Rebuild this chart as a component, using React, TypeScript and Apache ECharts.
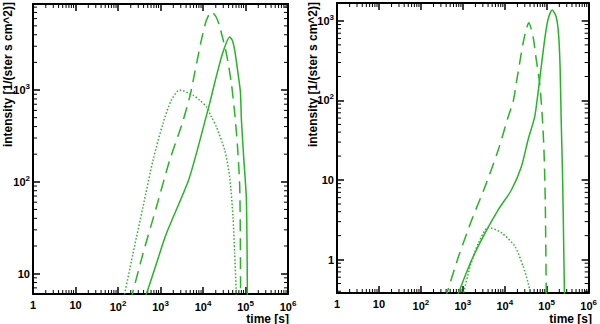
import React, { useEffect, useRef } from 'react';
import * as echarts from 'echarts';

// ---------- axis ranges ----------
const X_RANGE = [1, 1e6];
const LEFT_Y_RANGE = [6, 8650];
const RIGHT_Y_RANGE = [0.38, 1680];

// ---------- left panel data (time [s], intensity) ----------
const leftDashedT = [196, 387, 802, 1644, 3162, 4898, 6457, 9120, 12020, 15780, 20650, 24720, 35480, 46560, 55720, 64570, 73110, 75860, 76740];
const leftDashedI = [5.0, 16.5, 53.2, 172, 417, 851, 1585, 3467, 5754, 7129, 6166, 4887, 2512, 1180, 556, 251, 87.9, 17.8, 5.0];

const leftSolidT = [372, 466, 802, 1377, 4436, 7000, 10960, 14390, 20650, 29580, 42460, 48640, 55720, 66680, 75860, 80170, 91200, 105000, 110900];
const leftSolidI = [5.0, 6.03, 12.9, 27.3, 100, 204, 447, 719, 1416, 2588, 3776, 3499, 2723, 1517, 955, 470, 178, 63.1, 5.0];

const leftDottedT = [132, 225, 387, 667, 1146, 1803, 2831, 5821, 8356, 12020, 15780, 20650, 32430, 42460, 50820, 55720, 61660];
const leftDottedI = [5.0, 16.5, 53.2, 172, 433, 776, 1000, 879, 776, 656, 511, 397, 221, 113, 41.4, 16.5, 5.0];

// ---------- right panel data ----------
const rightDashedT = [376, 794, 1641, 3404, 7015, 12110, 15890, 19950, 27350, 31620, 37330, 47210, 56490, 67920, 78340, 85900, 92260, 97720];
const rightDashedI = [0.316, 1.10, 3.18, 8.32, 24.0, 62.8, 97.7, 200, 525, 741, 948, 634, 323, 165, 62.8, 24.0, 5.66, 0.316];

const rightSolidT = [689, 1641, 3404, 7015, 14490, 24950, 35970, 51760, 61940, 74130, 89130, 106700, 134900, 167900, 191000, 208400, 220300, 239900, 257000, 266100];
const rightSolidI = [0.316, 1.0, 2.16, 4.24, 7.55, 14.8, 32.1, 62.8, 124, 266, 575, 1026, 1371, 1130, 698, 266, 62.8, 10, 1, 0.316];

const rightDottedT = [955, 1503, 2366, 4074, 8395, 17420, 27350, 35970, 43650];
const rightDottedI = [0.316, 0.824, 1.62, 2.54, 2.16, 1.47, 0.824, 0.511, 0.316];

// ---------- texts ----------
const Y_TITLE = 'intensity [1/(ster s cm^2)]';
const X_TITLE = 'time [s]';

const GREEN = '#25b525';
const LABEL_FONT = "'Liberation Sans Narrow', 'Liberation Sans', Arial, sans-serif";
const TITLE_FONT = "'Liberation Sans', Arial, sans-serif";

const pairs = (t: number[], v: number[]) => t.map((x, i) => [x, v[i]]);

const minorTicks = (lo: number, hi: number) => {
  const out: number[] = [];
  for (let e = -2; e <= 6; e++) {
    for (let m = 2; m <= 9; m++) {
      const v = m * Math.pow(10, e);
      if (v > lo * 1.0001 && v < hi * 0.9999) out.push(v);
    }
  }
  return out;
};

const logLabel = (v: number) => {
  const lg = Math.log10(v);
  const e = Math.round(lg);
  if (Math.abs(lg - e) > 1e-6) return '';
  if (e === 0) return '{b|1}';
  if (e === 1) return '{b|10}';
  return `{b|10}{s|${e}}`;
};

const labelRich = {
  b: { fontSize: 11, fontWeight: 'bold', fontFamily: LABEL_FONT, color: '#000' },
  s: { fontSize: 8, fontWeight: 'bold', fontFamily: LABEL_FONT, color: '#000', padding: [0, 0, 7, 0] },
};

const App: React.FC = () => {
  const ref = useRef<HTMLDivElement>(null);

  useEffect(() => {
    if (!ref.current) return;
    const chart = echarts.init(ref.current, undefined, { renderer: 'svg' });

    const grids = [
      { left: 33, top: 4, width: 255, height: 290 },
      { left: 337, top: 3, width: 254, height: 290 },
    ];
    const yRanges = [LEFT_Y_RANGE, RIGHT_Y_RANGE];

    const axisLine = { show: true, onZero: false, lineStyle: { color: '#000', width: 2 } };
    const axisTick = { show: true, inside: true, length: 7, lineStyle: { color: '#000', width: 1.5 } };

    const xAxis: any[] = [];
    const yAxis: any[] = [];
    [0, 1].forEach((g) => {
      xAxis.push({
        type: 'log', logBase: 10, gridIndex: g, position: 'bottom',
        min: X_RANGE[0], max: X_RANGE[1],
        axisLine, axisTick, splitLine: { show: false }, minorTick: { show: false },
        axisLabel: {
          show: true, margin: 5, formatter: logLabel, rich: labelRich,
          showMinLabel: true, showMaxLabel: true,
        },
      });
      xAxis.push({
        type: 'log', logBase: 10, gridIndex: g, position: 'top',
        min: X_RANGE[0], max: X_RANGE[1],
        axisLine, axisTick, splitLine: { show: false }, axisLabel: { show: false },
      });
      yAxis.push({
        type: 'log', logBase: 10, gridIndex: g, position: 'left',
        min: yRanges[g][0], max: yRanges[g][1],
        axisLine, axisTick, splitLine: { show: false },
        axisLabel: {
          show: true, margin: 3, formatter: logLabel, rich: labelRich,
          showMinLabel: false, showMaxLabel: false,
        },
      });
      yAxis.push({
        type: 'log', logBase: 10, gridIndex: g, position: 'right',
        min: yRanges[g][0], max: yRanges[g][1],
        axisLine, axisTick, splitLine: { show: false }, axisLabel: { show: false },
      });
    });

    const lineSeries = (g: number, data: number[][], type: any) => ({
      type: 'line',
      xAxisIndex: g * 2,
      yAxisIndex: g * 2,
      data,
      showSymbol: false,
      symbol: 'none',
      smooth: 0.25,
      clip: true,
      lineStyle: { color: GREEN, width: 1.5, type },
      silent: true,
    });

    const tickStyle = { stroke: '#000', lineWidth: 1 };
    const xMinorSeries = (g: number) => {
      const yRef = Math.sqrt(yRanges[g][0] * yRanges[g][1]);
      return {
        type: 'custom', xAxisIndex: g * 2, yAxisIndex: g * 2, silent: true,
        data: minorTicks(X_RANGE[0], X_RANGE[1]).map((v) => [v, yRef]),
        encode: { x: 0, y: 1 },
        renderItem: (params: any, api: any) => {
          const p = api.coord([api.value(0), api.value(1)]);
          const cs = params.coordSys;
          const b = cs.y + cs.height;
          return {
            type: 'group',
            children: [
              { type: 'line', shape: { x1: p[0], y1: b, x2: p[0], y2: b - 4 }, style: tickStyle },
              { type: 'line', shape: { x1: p[0], y1: cs.y, x2: p[0], y2: cs.y + 4 }, style: tickStyle },
            ],
          };
        },
      };
    };
    const yMinorSeries = (g: number) => {
      const xRef = 1000;
      return {
        type: 'custom', xAxisIndex: g * 2, yAxisIndex: g * 2, silent: true,
        data: minorTicks(yRanges[g][0], yRanges[g][1]).map((v) => [xRef, v]),
        encode: { x: 0, y: 1 },
        renderItem: (params: any, api: any) => {
          const p = api.coord([api.value(0), api.value(1)]);
          const cs = params.coordSys;
          const r = cs.x + cs.width;
          return {
            type: 'group',
            children: [
              { type: 'line', shape: { x1: cs.x, y1: p[1], x2: cs.x + 4, y2: p[1] }, style: tickStyle },
              { type: 'line', shape: { x1: r, y1: p[1], x2: r - 4, y2: p[1] }, style: tickStyle },
            ],
          };
        },
      };
    };

    const titleStyle = { fill: '#000', font: `bold 12px ${TITLE_FONT}` };

    chart.setOption({
      animation: false,
      grid: grids,
      xAxis,
      yAxis,
      series: [
        lineSeries(0, pairs(leftSolidT, leftSolidI), 'solid'),
        lineSeries(0, pairs(leftDashedT, leftDashedI), [12, 7]),
        lineSeries(0, pairs(leftDottedT, leftDottedI), [1.5, 2]),
        lineSeries(1, pairs(rightSolidT, rightSolidI), 'solid'),
        lineSeries(1, pairs(rightDashedT, rightDashedI), [12, 7]),
        lineSeries(1, pairs(rightDottedT, rightDottedI), [1.5, 2]),
        xMinorSeries(0), yMinorSeries(0), xMinorSeries(1), yMinorSeries(1),
      ],
      graphic: [
        {
          type: 'text', x: 7.5, y: 2, rotation: Math.PI / 2,
          style: { ...titleStyle, text: Y_TITLE, textAlign: 'right', textVerticalAlign: 'middle' },
        },
        {
          type: 'text', x: 312.5, y: 2, rotation: Math.PI / 2,
          style: { ...titleStyle, text: Y_TITLE, textAlign: 'right', textVerticalAlign: 'middle' },
        },
        {
          type: 'text', x: 289, y: 318.5,
          style: { ...titleStyle, text: X_TITLE, textAlign: 'right', textVerticalAlign: 'middle' },
        },
        {
          type: 'text', x: 592, y: 318.5,
          style: { ...titleStyle, text: X_TITLE, textAlign: 'right', textVerticalAlign: 'middle' },
        },
      ],
    });

    return () => chart.dispose();
  }, []);

  return (
    <div
      ref={ref}
      style={{ position: 'absolute', left: 0, top: 0, width: 600, height: 324, background: '#fff' }}
    />
  );
};

export default App;
